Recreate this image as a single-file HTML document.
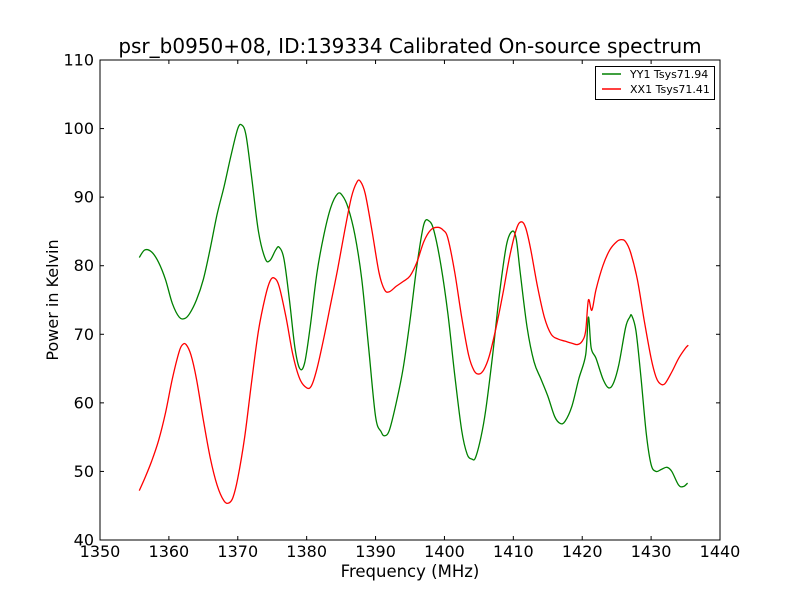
<!DOCTYPE html>
<html><head><meta charset="utf-8"><style>
body{margin:0;background:#fff}
svg{display:block;font-family:"DejaVu Sans","Liberation Sans",sans-serif}
</style></head><body>
<svg id="chart" width="800" height="600" viewBox="0 0 800 600">
<rect width="800" height="600" fill="#fff"/>
<text x="410" y="53" font-size="20" text-anchor="middle">psr_b0950+08, ID:139334 Calibrated On-source spectrum</text>
<g id="ticks"></g>
<g id="series"></g>
<rect x="100" y="60" width="620" height="480" fill="none" stroke="#000" stroke-width="1"/>
<text x="410" y="577" font-size="16.5" text-anchor="middle">Frequency (MHz)</text>
<text x="58" y="300" font-size="16" text-anchor="middle" transform="rotate(-90 58 300)">Power in Kelvin</text>
<g>
<rect x="595.5" y="66.5" width="119" height="33" fill="#fff" stroke="#000"/>
<line x1="602" y1="74" x2="621" y2="74" stroke="#008000" stroke-width="1.4"/>
<text x="630" y="78" font-size="11">YY1 Tsys71.94</text>
<line x1="602" y1="89" x2="621" y2="89" stroke="#ff0000" stroke-width="1.4"/>
<text x="630" y="93" font-size="11">XX1 Tsys71.41</text>
</g>
</svg>
<script>
const xTicks=[1350,1360,1370,1380,1390,1400,1410,1420,1430,1440];
const yTicks=[40,50,60,70,80,90,100,110];
const yyFreq=[1355.7,1356.5,1357.5,1358.5,1359.5,1360.5,1361.5,1362.3,1363,1364,1365,1366,1367,1368,1369,1370,1370.6,1371.2,1372,1373,1374,1374.7,1375.5,1376,1376.7,1377.5,1378.3,1379,1379.7,1380.5,1381.5,1382.5,1383.5,1384.5,1385.2,1386,1387,1388,1389,1390,1390.8,1391.3,1392,1393,1394,1395,1396,1397,1397.8,1398.5,1399.5,1400.5,1401.5,1402.5,1403.3,1404,1404.5,1405.3,1406,1407,1408,1409,1409.8,1410.4,1411,1412,1413,1414,1415,1416,1416.8,1417.5,1418.5,1419.5,1420.5,1420.9,1421.3,1422,1423,1423.8,1424.5,1425.3,1426.3,1426.9,1427.2,1427.8,1428.5,1429.3,1430,1430.7,1431.5,1432.3,1433,1434,1434.7,1435.3];
const yyVals=[81.2,82.3,82,80.5,78,74.5,72.5,72.3,73,75,78,82.5,87.5,91.5,96,100,100.5,99,93,85,81,80.8,82.3,82.7,81,75,68,65,65.8,71,79,84.5,88.5,90.5,90.2,88.5,84.5,78,68,58,55.8,55.2,56,60,65,72,80,86,86.5,85,80,73,64,56,52.5,51.8,52,55,59,67,76,83,85,84,79,71,66,63.5,61,58,57,57.3,59.5,63.5,67,72.5,68,66.5,63.5,62.2,62.8,65.5,71,72.5,72.7,70.5,64,55.5,51,50,50.3,50.6,50,48,47.8,48.3];
const xxFreq=[1355.7,1356.5,1357.5,1358.5,1359.5,1360.5,1361.5,1362,1362.5,1363.2,1364,1365,1366,1367,1368,1368.7,1369.3,1370,1371,1372,1373,1374,1374.7,1375.3,1376,1377,1378,1379,1380,1380.7,1381.5,1382.5,1383.5,1384.5,1385.5,1386.5,1387.3,1387.8,1388.5,1389.5,1390.5,1391.3,1392,1393,1394,1395,1396,1397,1398,1399,1399.8,1400.5,1401.5,1402.5,1403.5,1404.3,1405,1405.7,1406.5,1407.5,1408.5,1409.5,1410.5,1411.2,1411.8,1412.5,1413.5,1414.5,1415.5,1416.5,1417.5,1418.5,1419.3,1420,1420.5,1420.9,1421.4,1422,1423,1424,1425,1425.7,1426.3,1427,1428,1429,1430,1430.7,1431.3,1432,1433,1434,1435,1435.4];
const xxVals=[47.2,49,51.5,54.5,58.5,63.5,67.5,68.5,68.5,67,63.5,57.5,52,48,45.7,45.4,46.2,49,55,63,70.5,75.5,77.8,78.2,77,72.5,67,63.5,62.2,62.5,65,69.5,74.5,79.5,85,90,92.2,92.3,90.5,85,79,76.5,76.2,77,77.7,78.5,80.5,83.5,85.2,85.6,85.2,84,79,72.5,67,64.7,64.2,64.8,66.8,71,76,81.5,85.5,86.4,85.5,82.5,77,72.5,70,69.3,69,68.7,68.5,69,70.5,75,73.5,76.5,80,82.3,83.5,83.8,83.5,82,78,72,66.5,63.8,62.8,62.8,64.5,66.5,68,68.4];
const X0=100,X1=720,Y0=540,Y1=60;
function xs(v){return X0+(v-1350)/(1440-1350)*(X1-X0);}
function ys(v){return Y0-(v-40)/(110-40)*(Y0-Y1);}
const NS='http://www.w3.org/2000/svg';
const tg=document.getElementById('ticks');
function mk(tag,attrs,parent){const e=document.createElementNS(NS,tag);for(const k in attrs)e.setAttribute(k,attrs[k]);parent.appendChild(e);return e;}
xTicks.forEach(t=>{const x=xs(t);
 const l1=mk('line',{x1:x,y1:540,x2:x,y2:536,stroke:'#000'},tg);
 
 
 const l2=mk('line',{x1:x,y1:60,x2:x,y2:64,stroke:'#000'},tg);
 
 
 const tx=mk('text',{x:x,y:557,'font-size':16,'text-anchor':'middle'},tg);tx.textContent=t;
 
 
});
yTicks.forEach(t=>{const y=ys(t);
 const l1=mk('line',{x1:100,y1:y,x2:104,y2:y,stroke:'#000'},tg);
 
 
 const l2=mk('line',{x1:720,y1:y,x2:716,y2:y,stroke:'#000'},tg);
 
 
 const tx=mk('text',{x:94,y:y+5.5,'font-size':16,'text-anchor':'end'},tg);tx.textContent=t;
 
 
});
const sg=document.getElementById('series');
function line(f,v,c,name){
 const P=f.map((q,i)=>[xs(q),ys(v[i])]);
 let d='M'+P[0][0].toFixed(2)+','+P[0][1].toFixed(2);
 for(let i=0;i<P.length-1;i++){
  const p0=P[Math.max(0,i-1)],p1=P[i],p2=P[i+1],p3=P[Math.min(P.length-1,i+2)];
  const c1=[p1[0]+(p2[0]-p0[0])/6,p1[1]+(p2[1]-p0[1])/6];
  const c2=[p2[0]-(p3[0]-p1[0])/6,p2[1]-(p3[1]-p1[1])/6];
  d+='C'+c1.map(n=>n.toFixed(2)).join(',')+' '+c2.map(n=>n.toFixed(2)).join(',')+' '+p2.map(n=>n.toFixed(2)).join(',');
 }
 const p=mk('path',{d:d,fill:'none',stroke:c,'stroke-width':1.3,'stroke-linejoin':'round'},sg);
 
 
}
line(yyFreq,yyVals,'#008000','yy1-line');
line(xxFreq,xxVals,'#ff0000','xx1-line');
</script>
</body></html>
